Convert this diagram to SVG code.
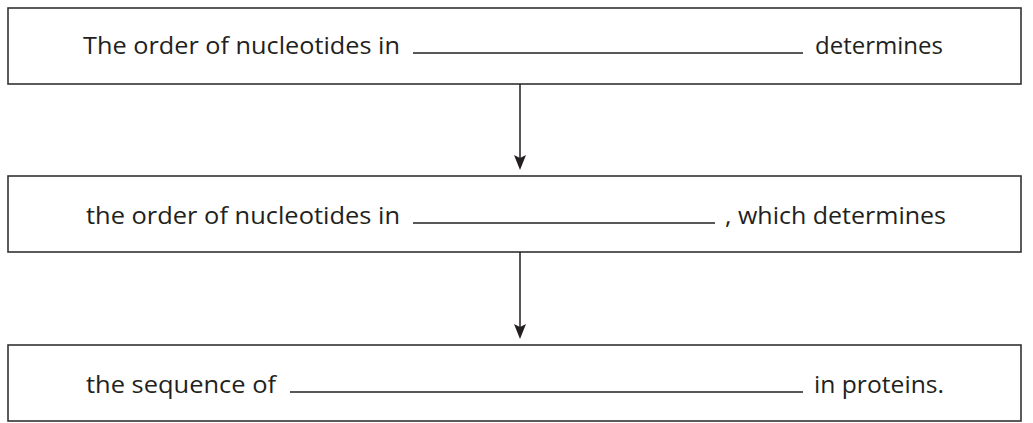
<svg xmlns="http://www.w3.org/2000/svg" width="1033" height="423" viewBox="0 0 1033 423">
  <style>
    .box { fill: #ffffff; stroke: #333333; stroke-width: 1.6; }
    .txt { font-family: "Open Sans", "Liberation Sans", sans-serif; font-size: 24px; fill: #231f20; }
    .blank { stroke: #231f20; stroke-width: 1.3; }
    .conn { stroke: #231f20; stroke-width: 1.5; fill: none; }
    .head { fill: #231f20; }
  </style>
  <rect width="1033" height="423" fill="#ffffff"/>

  <g id="step-dna">
    <rect class="box" x="8" y="8" width="1013" height="76"/>
    <text class="txt" x="83" y="54" textLength="317" lengthAdjust="spacingAndGlyphs">The order of nucleotides in</text>
    <line class="blank" x1="413" y1="53" x2="803" y2="53"/>
    <text class="txt" x="815" y="54" textLength="128" lengthAdjust="spacingAndGlyphs">determines</text>
  </g>

  <g id="step-rna">
    <rect class="box" x="8" y="176" width="1013" height="76"/>
    <text class="txt" x="86" y="224" textLength="314" lengthAdjust="spacingAndGlyphs">the order of nucleotides in</text>
    <line class="blank" x1="413" y1="223" x2="715" y2="223"/>
    <text class="txt" x="725" y="224" textLength="221" lengthAdjust="spacingAndGlyphs">, which determines</text>
  </g>

  <g id="step-protein">
    <rect class="box" x="8" y="345" width="1013" height="76"/>
    <text class="txt" x="86" y="393" textLength="190" lengthAdjust="spacingAndGlyphs">the sequence of</text>
    <line class="blank" x1="290" y1="392" x2="803" y2="392"/>
    <text class="txt" x="814" y="393" textLength="130" lengthAdjust="spacingAndGlyphs">in proteins.</text>
  </g>

  <g id="connectors">
    <line class="conn" x1="520" y1="84" x2="520" y2="160"/>
    <path class="head" d="M514,155 L520,158 L526,155 L520,170 Z"/>
    <line class="conn" x1="520" y1="252" x2="520" y2="329"/>
    <path class="head" d="M514,324 L520,327 L526,324 L520,339 Z"/>
  </g>
</svg>
